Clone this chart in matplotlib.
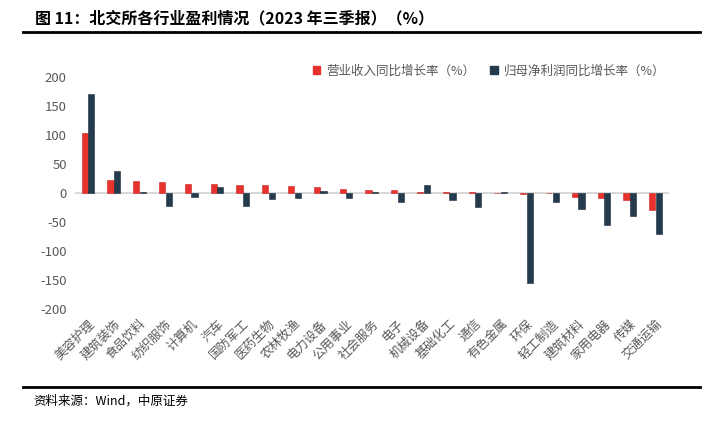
import numpy as np
import matplotlib.pyplot as plt
from matplotlib.lines import Line2D
from matplotlib.patches import Patch

plt.rcParams['font.family'] = ['Noto Sans CJK SC', 'DejaVu Sans']

# data
industries = ['美容护理', '建筑装饰', '食品饮料', '纺织服饰', '计算机', '汽车', '国防军工',
              '医药生物', '农林牧渔', '电力设备', '公用事业', '社会服务', '电子', '机械设备',
              '基础化工', '通信', '有色金属', '环保', '轻工制造', '建筑材料', '家用电器',
              '传媒', '交通运输']
revenue_yoy = [103, 23, 20, 19, 16, 16, 14, 13, 11.5, 10, 7.5, 5.5, 5, 2, 1.5, 1, 0.5,
               -1, -0.5, -6, -8, -12, -29]
profit_yoy = [170, 38, 1, -22, -6, 10, -22, -10, -9, 4, -9, 2, -15, 13, -12, -24, 1,
              -155, -16, -28, -55, -40, -71]
yticks = [200, 150, 100, 50, 0, -50, -100, -150, -200]

red = '#E8322E'
navy = '#243A4D'
grey = '#595959'

fig = plt.figure(figsize=(7.15, 4.34), dpi=100)
ax = fig.add_axes([0.105, 0.288, 0.83, 0.5345])

x = np.arange(len(industries))
w = 0.24
ax.bar(x - 0.13, revenue_yoy, w, color=red, edgecolor='#C9231F', linewidth=0.4, zorder=3)
ax.bar(x + 0.13, profit_yoy, w, color=navy, edgecolor='#1A2B3A', linewidth=0.4, zorder=3)
ax.axhline(0, color='#D9D9D9', lw=1.5, zorder=2)

ax.set_xlim(-0.5, len(industries) - 0.5)
ax.set_ylim(-200, 200)
ax.set_yticks(yticks)
ax.set_yticklabels([str(v) for v in yticks], color=grey, fontsize=9.5)
ax.set_xticks(x)
ax.set_xticklabels(industries, rotation=45, ha='right', rotation_mode='anchor',
                   color=grey, fontsize=9)
ax.tick_params(length=0, pad=6)
for s in ax.spines.values():
    s.set_visible(False)

handles = [Patch(color=red), Patch(color=navy)]
ax.legend(handles, ['营业收入同比增长率（%）', '归母净利润同比增长率（%）'],
          loc='center right', bbox_to_anchor=(0.995, 1.026), ncol=2, frameon=False,
          fontsize=9, handlelength=0.6, handleheight=0.6, handletextpad=0.5,
          columnspacing=1.2, borderaxespad=0, borderpad=0, labelcolor=grey)

# title and frame lines
fig.text(35 / 715, 1 - 18 / 434, '图 11：北交所各行业盈利情况（2023 年三季报）（%）',
         fontsize=11.5, fontweight='bold', va='center', ha='left')
fig.add_artist(Line2D([23 / 715, 700 / 715], [1 - 32 / 434] * 2, color='black', lw=2))
fig.add_artist(Line2D([23 / 715, 700 / 715], [1 - 387 / 434] * 2, color='black', lw=2))
fig.text(33 / 715, 1 - 401 / 434, '资料来源：Wind，中原证券', fontsize=9,
         va='center', ha='left')

fig.savefig('out.png', dpi=100)
